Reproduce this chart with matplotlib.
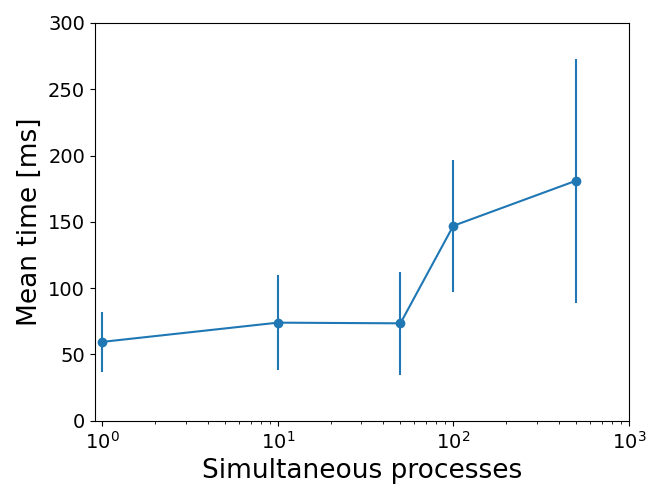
import matplotlib
matplotlib.use("Agg")
import matplotlib.pyplot as plt

processes = [1, 10, 50, 100, 500]
mean_time = [59.5, 74.0, 73.5, 147.0, 181.0]
err_time = [22.5, 36.0, 39.0, 50.0, 92.0]

fig = plt.figure(figsize=(6.64, 4.98), dpi=100)
ax = fig.add_axes([0.143, 0.155, 0.804, 0.799])
ax.errorbar(processes, mean_time, yerr=err_time, marker="o", color="#1f77b4")
ax.set_xscale("log")
ax.set_xlim(0.91, 1000)
ax.set_ylim(0, 300)
ax.tick_params(labelsize=14)
ax.set_xlabel("Simultaneous processes", fontsize=19)
ax.set_ylabel("Mean time [ms]", fontsize=19)
fig.savefig("out.png")
